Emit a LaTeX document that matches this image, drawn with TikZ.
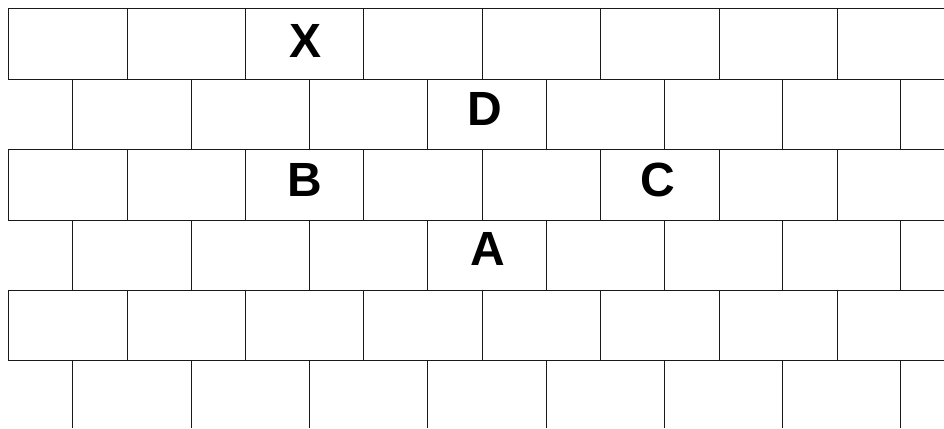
\documentclass[tikz,border=0pt]{standalone}
\usepackage{fontspec}
\setmainfont{Liberation Sans}
\begin{document}
\begin{tikzpicture}[x=1pt,y=-1pt,
  brick/.style={line width=1pt,draw=black!90},
  lbl/.style={font=\fontsize{48}{48}\selectfont\bfseries,inner sep=0pt}]
\useasboundingbox (0,0) rectangle (944,428);
% horizontal mortar lines
\foreach \y in {8.5,79.5,149.5,220.5,290.5,360.5}
  \draw[brick] (8,\y) -- (944,\y);
% vertical joints, rows 1,3,5
\foreach \t/\b in {8.5/79.5,149.5/220.5,290.5/360.5}
  \foreach \x in {8.5,127.5,245.5,363.5,482.5,600.5,719.5,837.5}
    \draw[brick] (\x,\t) -- (\x,\b);
% vertical joints, rows 2,4,6
\foreach \t/\b in {79.5/149.5,220.5/290.5,360.5/428}
  \foreach \x in {72.5,191.5,309.5,427.5,546.5,664.5,782.5,900.5}
    \draw[brick] (\x,\t) -- (\x,\b);
% labels
\node[lbl] (X) at (305.5,41) {X};
\node[lbl] (D) at (484.5,108.5) {D};
\node[lbl] (B) at (304.5,179.5) {B};
\node[lbl] (C) at (657.5,180) {C};
\node[lbl] (A) at (488,248.5) {A};
\end{tikzpicture}
\end{document}
